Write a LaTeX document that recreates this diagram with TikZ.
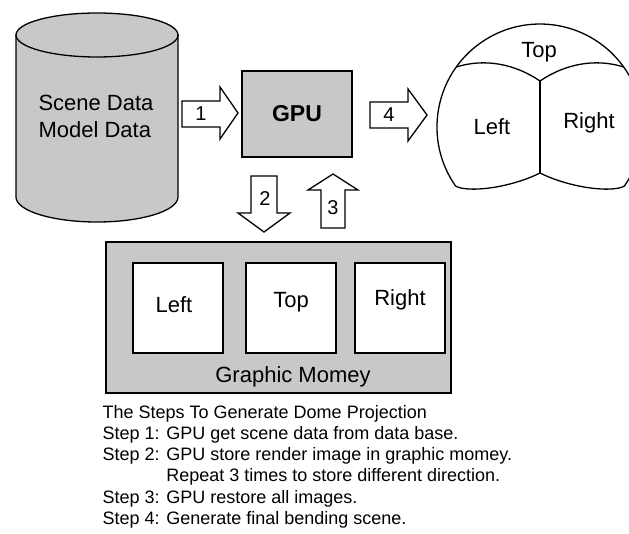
\documentclass[tikz,border=0pt]{standalone}
\usepackage{fontspec}
\setmainfont{Liberation Sans}
\definecolor{boxgray}{RGB}{200,200,200}
\begin{document}
\begin{tikzpicture}[x=1pt,y=-1pt,line width=1.3pt,line join=miter,
  graybox/.style={draw=black,fill=boxgray},
  whitebox/.style={draw=black,fill=white},
  blockarrow/.style={draw=black,fill=white},
  lbl/.style={font=\fontsize{22}{26}\selectfont,inner sep=0pt},
  num/.style={font=\fontsize{20}{24}\selectfont,inner sep=0pt},
  steptext/.style={font=\fontsize{18}{21}\selectfont,inner sep=0pt,anchor=base west}]
\useasboundingbox (0,0) rectangle (629,534);

% database cylinder
\path[graybox] (16,35) -- (16,197) arc[start angle=180,end angle=0,x radius=81,y radius=25] -- (178,35) -- cycle;
\draw[graybox] (97,35) ellipse[x radius=81,y radius=22];
\node[lbl,align=left] (db) at (96,116) {Scene Data\\[1pt]Model Data};

% GPU
\node[graybox,minimum width=110pt,minimum height=86pt,inner sep=0pt] (gpu) at (297,114) {};
\node[font=\fontsize{23}{27}\selectfont\bfseries,inner sep=0pt] (gputxt) at (297,114) {GPU};

% block arrows
\draw[blockarrow] (182,101) -- (220,101) -- (220,87) -- (238,113) -- (220,139) -- (220,127) -- (182,127) -- cycle;
\node[num] (n1) at (201,114) {1};
\draw[blockarrow] (370,102) -- (408,102) -- (408,89) -- (427,115) -- (408,141) -- (408,128) -- (370,128) -- cycle;
\node[num] (n4) at (389,115) {4};
\draw[blockarrow] (251,176) -- (277,176) -- (277,213) -- (290,213) -- (264,232) -- (238,213) -- (251,213) -- cycle;
\node[num] (n2) at (265,199) {2};
\draw[blockarrow] (321,228) -- (345,228) -- (345,190) -- (358,190) -- (333,174) -- (308,190) -- (321,190) -- cycle;
\node[num] (n3) at (333,208) {3};

% dome
\draw (455.6,186.1) arc[start angle=145,end angle=395,radius=103]
  .. controls (612,193) and (570,188) .. (540,173)
  .. controls (510,188) and (468,193) .. (455.6,186.1);
\draw (456.3,67) .. controls (485,58) and (515,64) .. (540,81)
  .. controls (565,64) and (595,58) .. (623.7,67);
\draw (540,81) -- (540,173);
\node[lbl] (dtop) at (539,52) {Top};
\node[lbl] (dleft) at (492,127) {Left};
\node[lbl] (dright) at (589,123) {Right};

% graphic memory
\draw[graybox] (106,242) rectangle (451,393);
\draw[whitebox] (133,263) rectangle (223,353);
\draw[whitebox] (246,263) rectangle (336,353);
\draw[whitebox] (355,263) rectangle (445,353);
\node[lbl] (mleft) at (174,305) {Left};
\node[lbl] (mtop) at (291,302) {Top};
\node[lbl] (mright) at (400,300) {Right};
\node[lbl] (mem) at (293,377) {Graphic Momey};

% steps text
\node[steptext] (s0) at (102,418) {The Steps To Generate Dome Projection};
\node[steptext] (s1) at (102,439.3) {Step 1: GPU get scene data from data base.};
\node[steptext] (s2) at (102,460.6) {Step 2: GPU store render image in graphic momey.};
\node[steptext] (s2b) at (102,481.9) {\phantom{Step 2: }Repeat 3 times to store different direction.};
\node[steptext] (s3) at (102,503.2) {Step 3: GPU restore all images.};
\node[steptext] (s4) at (102,524.5) {Step 4: Generate final bending scene.};
\end{tikzpicture}
\end{document}
